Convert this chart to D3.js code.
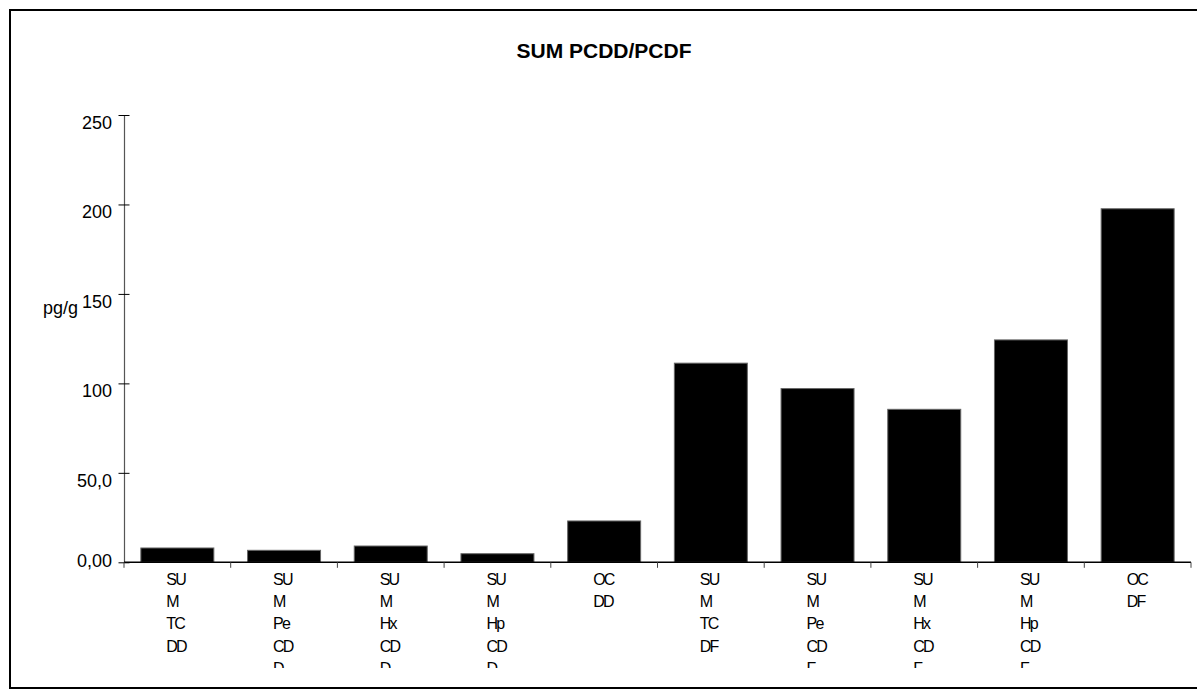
<!DOCTYPE html>
<html>
<head>
<meta charset="utf-8">
<script src="https://cdn.jsdelivr.net/npm/d3@7"></script>
<style>
  html, body { margin: 0; padding: 0; background: #fff; }
  svg { display: block; font-family: "Liberation Sans", Arial, sans-serif; }
</style>
</head>
<body>
<svg id="chart" width="1197" height="689"></svg>
<script>
const title = "SUM PCDD/PCDF";
const yAxisLabel = "pg/g";
const categories = ["SUM TCDD", "SUM PeCDD", "SUM HxCDD", "SUM HpCDD", "OCDD",
                    "SUM TCDF", "SUM PeCDF", "SUM HxCDF", "SUM HpCDF", "OCDF"];
const values = [8.0, 6.7, 9.1, 4.8, 23.1, 111.3, 97.1, 85.5, 124.3, 197.6];
const yTicks = [0, 50, 100, 150, 200, 250];
const yTickLabels = ["0,00", "50,0", "100", "150", "200", "250"];

const svg = d3.select("#chart");
const W = 1197, H = 689;
const plot = { left: 124, right: 1191, top: 115, bottom: 562.3 };

// outer frame
svg.append("rect").attr("x", 10).attr("y", 10).attr("width", W + 10).attr("height", 678)
  .attr("fill", "none").attr("stroke", "#000").attr("stroke-width", 2);

// title
svg.append("text").attr("x", 604).attr("y", 58).attr("text-anchor", "middle")
  .attr("font-size", 21).attr("font-weight", "bold").attr("fill", "#000").text(title);

const x = d3.scaleBand().domain(categories).range([plot.left, plot.right])
  .paddingInner(0.316).paddingOuter(0.158);
const y = d3.scaleLinear().domain([0, 250]).range([plot.bottom, plot.top]);

// bars
svg.append("g").selectAll("rect").data(values).join("rect")
  .attr("x", (d, i) => x(categories[i]))
  .attr("y", d => y(d))
  .attr("width", x.bandwidth())
  .attr("height", d => y(0) - y(d))
  .attr("fill", "#000").attr("stroke", "#666").attr("stroke-width", 1);

// y axis
const yAxis = d3.axisLeft(y).tickValues(yTicks).tickSize(0)
  .tickFormat((d, i) => yTickLabels[i]);
const gy = svg.append("g").attr("transform", `translate(${plot.left},0)`).call(yAxis);
gy.select(".domain").attr("stroke", "#555").attr("stroke-width", 1.2);
gy.selectAll(".tick line").remove();
gy.selectAll(".tick").append("line").attr("x1", -5.5).attr("x2", 5.5)
  .attr("stroke", "#000").attr("stroke-width", 1);
gy.selectAll(".tick text")
  .attr("x", -12).attr("dy", d => d === 0 ? "0.25em" : "0.75em")
  .attr("font-size", 18).attr("font-family", "Liberation Sans, Arial, sans-serif")
  .attr("fill", "#000");

// x axis
const tickPositions = categories.map(c => x(c) - x.step() * x.paddingInner() / 2)
  .concat([plot.right]);
svg.append("line").attr("x1", plot.left).attr("x2", plot.right)
  .attr("y1", plot.bottom).attr("y2", plot.bottom).attr("stroke", "#000").attr("stroke-width", 1.5);
svg.append("g").selectAll("line").data(tickPositions).join("line")
  .attr("x1", d => d).attr("x2", d => d)
  .attr("y1", plot.bottom).attr("y2", plot.bottom + 5.5)
  .attr("stroke", "#444").attr("stroke-width", 1);

// category labels, wrapped into 2-character chunks, clipped at the bottom
svg.append("defs").append("clipPath").attr("id", "labclip")
  .append("rect").attr("x", 0).attr("y", 0).attr("width", W).attr("height", 668);
function chunks(label) {
  const out = [];
  label.split(" ").forEach(w => { for (let i = 0; i < w.length; i += 2) out.push(w.slice(i, i + 2)); });
  return out;
}
const labG = svg.append("g").attr("clip-path", "url(#labclip)");
categories.forEach(c => {
  const cx = x(c) + x.bandwidth() / 2 - 11;
  const t = labG.append("text").attr("font-size", 16).attr("letter-spacing", "-1.8px").attr("fill", "#000");
  chunks(c).forEach((s, i) => {
    t.append("tspan").attr("x", cx).attr("y", 585 + i * 22.2).text(s);
  });
});

// y label
svg.append("text").attr("x", 43).attr("y", 314).attr("font-size", 18).attr("fill", "#000").text(yAxisLabel);
</script>
</body>
</html>
